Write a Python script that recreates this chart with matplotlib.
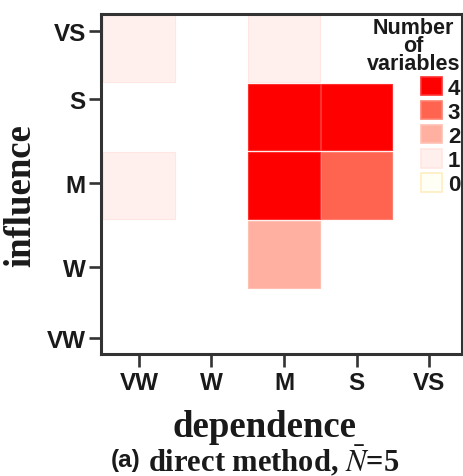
import matplotlib
matplotlib.use("Agg")
import matplotlib.pyplot as plt
from matplotlib.patches import Patch
import numpy as np

# categories (same scale on both axes)
levels = ['VW', 'W', 'M', 'S', 'VS']

# number of variables per cell, rows = influence (VW..VS), cols = dependence (VW..VS)
counts = np.array([
    [0, 0, 0, 0, 0],   # VW
    [0, 0, 2, 0, 0],   # W
    [1, 0, 4, 3, 0],   # M
    [0, 0, 4, 4, 0],   # S
    [1, 0, 1, 0, 0],   # VS
])

legend_values = [4, 3, 2, 1, 0]

face = {4: '#ff0000', 3: '#ff6450', 2: '#ffb0a0', 1: '#fff0ee', 0: '#fffff6'}
edge = {4: '#ff3030', 3: '#ff8070', 2: '#ffc0b4', 1: '#ffe6e2', 0: '#ffeec0'}

sans = 'Liberation Sans'
serif = 'Liberation Serif'
ink = '#1a1a1a'
plt.rcParams['mathtext.fontset'] = 'stix'

fig = plt.figure(figsize=(4.64, 4.77), dpi=100)
ax = fig.add_axes([101/464, 1-355/477, 361/464, 340/477])

# draw the cells
for i in range(len(levels)):
    for j in range(len(levels)):
        v = counts[i, j]
        if v == 0:
            continue
        ax.bar(j, 0.97, bottom=i-0.485, width=0.98, color=face[v],
               edgecolor=edge[v], linewidth=0.8, zorder=2)

ax.set_xlim(-0.524, 4.455)
ax.set_ylim(-0.45, 4.5)

ax.set_xticks(range(len(levels)))
ax.set_xticklabels(levels)
# the y ticks in the original sit a bit off the cell centres
ax.set_yticks([-0.216, 0.817, 2.04, 3.26, 4.25])
ax.set_yticklabels(levels)

for lab in ax.get_xticklabels() + ax.get_yticklabels():
    lab.set_fontfamily(sans)
    lab.set_fontweight('bold')
    lab.set_fontsize(17.5)
    lab.set_color(ink)

ax.tick_params(axis='both', length=9, width=1.9, color='#333333', direction='out')
ax.tick_params(axis='x', pad=3)
ax.tick_params(axis='y', pad=2)
for s in ax.spines.values():
    s.set_color('#333333')
    s.set_linewidth(2.2)

ax.set_xlabel('dependence', fontfamily=serif, fontweight='bold', fontsize=26.5, color=ink)
ax.xaxis.label.set_va('center')
ax.xaxis.set_label_coords(0.454, -0.212)
ax.set_ylabel('influence', fontfamily=serif, fontweight='bold', fontsize=26.5, color=ink)
ax.yaxis.label.set_va('center')
ax.yaxis.set_label_coords(-0.222, 0.47)

# legend
handles = [Patch(facecolor=face[v], edgecolor=edge[v], linewidth=1.2) for v in legend_values]
leg = ax.legend(handles, [str(v) for v in legend_values], title='Number\nof\nvariables',
                loc='upper right', bbox_to_anchor=(0.995, 0.99), frameon=False,
                borderaxespad=0.0, borderpad=0.0, handlelength=0.95, handleheight=0.9,
                handletextpad=0.25, labelspacing=0.1, alignment='right',
                prop={'family': sans, 'weight': 'bold', 'size': 16},
                title_fontproperties={'family': sans, 'weight': 'bold', 'size': 15.5})
leg.get_title().set_linespacing(0.8)
leg.get_title().set_multialignment('center')
leg.get_title().set_color(ink)
leg._legend_box.sep = 2
for t in leg.get_texts():
    t.set_color(ink)

# caption
fig.text(141/464, 1-461/477, '(a)', ha='right', va='center', fontfamily=sans,
         fontweight='bold', fontsize=17.5, color=ink)
fig.text(148/464, 1-461/477, r'direct method, $\bar{N}$=5', ha='left', va='center',
         fontfamily=serif, fontweight='bold', fontsize=22, color=ink)

fig.savefig('out.png', dpi=100)
